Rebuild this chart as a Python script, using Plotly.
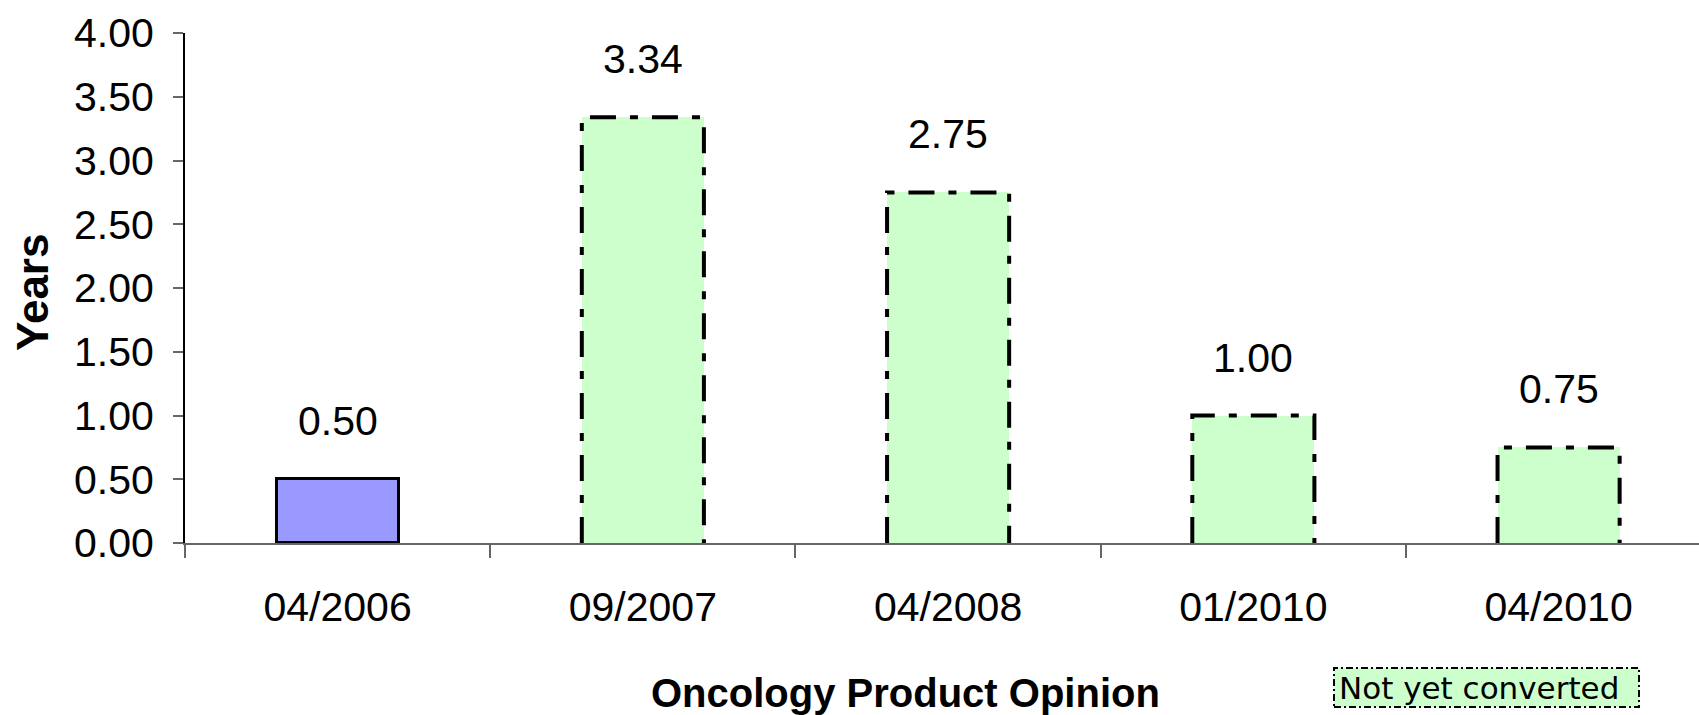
import plotly.graph_objects as go

# Time to conversion per review date
categories = ["04/2006", "09/2007", "04/2008", "01/2010", "04/2010"]
years = [0.50, 3.34, 2.75, 1.00, 0.75]
converted = [True, False, False, False, False]
y_ticks = [0.0, 0.5, 1.0, 1.5, 2.0, 2.5, 3.0, 3.5, 4.0]

BLUE = "#9999FF"
GREEN = "#CCFFCC"
BAR_W = 0.40
FONT = "Liberation Sans, Arial, sans-serif"

xs = list(range(len(categories)))
fig = go.Figure()

# converted bar: solid outline
fig.add_trace(go.Bar(
    x=[x for x, c in zip(xs, converted) if c],
    y=[v for v, c in zip(years, converted) if c],
    width=BAR_W,
    marker=dict(color=BLUE, line=dict(color="black", width=3)),
    showlegend=False, hoverinfo="skip",
))
# not-yet-converted bars: fill only, outline drawn below with dash-dot
fig.add_trace(go.Bar(
    x=[x for x, c in zip(xs, converted) if not c],
    y=[v for v, c in zip(years, converted) if not c],
    width=BAR_W,
    marker=dict(color=GREEN, line=dict(width=0)),
    showlegend=False, hoverinfo="skip",
))
for x, v, c in zip(xs, years, converted):
    if c:
        continue
    h = BAR_W / 2
    fig.add_trace(go.Scatter(
        x=[x - h, x - h, x + h, x + h], y=[0, v, v, 0],
        mode="lines",
        line=dict(color="black", width=4, dash="26px,14px,8px,14px"),
        cliponaxis=False, showlegend=False, hoverinfo="skip",
    ))

# value labels
for x, v in zip(xs, years):
    fig.add_annotation(x=x, y=v, text=f"{v:.2f}", showarrow=False,
                       yshift=58, yanchor="middle",
                       font=dict(family=FONT, size=41, color="black"))

plot_left, plot_top, plot_bottom, W, H = 185, 33, 543, 1699, 715
pw, ph = W - plot_left, plot_bottom - plot_top

def px(xp):
    return (xp - plot_left) / pw

def py(yp):
    return (plot_bottom - yp) / ph

# axis titles
fig.add_annotation(xref="paper", yref="paper", x=px(32), y=py(293),
                   text="<b>Years</b>", textangle=-90, showarrow=False,
                   xanchor="center", yanchor="middle",
                   font=dict(family=FONT, size=44, color="black"))
fig.add_annotation(xref="paper", yref="paper", x=px(905), y=py(693),
                   text="<b>Oncology Product Opinion</b>", showarrow=False,
                   xanchor="center", yanchor="middle",
                   font=dict(family=FONT, size=40, color="black"))

# key box
fig.add_shape(type="rect", xref="paper", yref="paper",
              x0=px(1334), x1=px(1639), y0=py(707), y1=py(668),
              fillcolor=GREEN, line=dict(color="black", width=2, dash="7px,3px,2px,3px"),
              layer="above")
fig.add_annotation(xref="paper", yref="paper", x=px(1337), y=py(688),
                   text="Not yet converted", showarrow=False,
                   xanchor="left", yanchor="middle",
                   font=dict(family="DejaVu Sans", size=31, color="black"))

fig.update_layout(
    width=W, height=H,
    margin=dict(l=plot_left, r=0, t=plot_top, b=H - plot_bottom, pad=0),
    paper_bgcolor="white", plot_bgcolor="white",
    barmode="overlay", bargap=0,
    showlegend=False,
)
fig.update_xaxes(
    range=[-0.5, 4.46], tickmode="array", tickvals=xs, ticktext=categories,
    ticks="", showgrid=False, zeroline=False,
    showline=True, linecolor="#666666", linewidth=2,
    tickfont=dict(family=FONT, size=41, color="black"),
    ticklabelstandoff=27,
    minor=dict(tickmode="array", tickvals=[x - 0.5 for x in xs],
               ticks="outside", ticklen=13, tickcolor="#666666", tickwidth=2,
               showgrid=False),
)
fig.update_yaxes(
    range=[0, 4], tickmode="array", tickvals=y_ticks,
    ticktext=[f"{t:.2f}" for t in y_ticks],
    ticks="outside", ticklen=10, tickcolor="#666666", tickwidth=2,
    showgrid=False, zeroline=False,
    showline=True, linecolor="black", linewidth=2,
    tickfont=dict(family=FONT, size=41, color="black"),
    ticklabelstandoff=11,
)

fig.write_html("out.html")
